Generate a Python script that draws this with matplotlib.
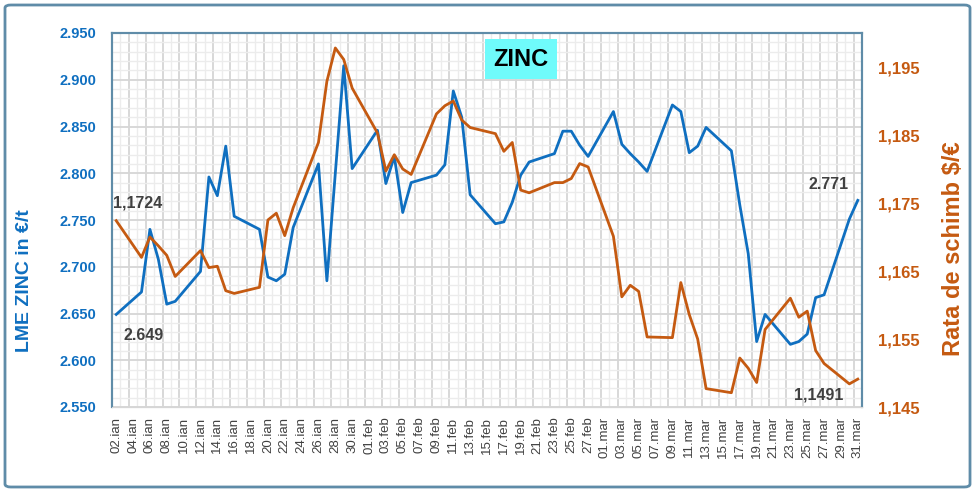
import numpy as np
import pandas as pd
import matplotlib
matplotlib.use('Agg')
import matplotlib.pyplot as plt
from matplotlib.patches import Rectangle, FancyBboxPatch
from matplotlib.ticker import FuncFormatter, MultipleLocator

# zile de la 02.ian (pozitia pe axa)
zile = [0,
        3, 4, 5, 6, 7,
        10, 11, 12, 13, 14,
        17, 18, 19, 20, 21,
        24, 25, 26, 27, 28,
        31, 32, 33, 34, 35,
        38, 39, 40, 41, 42,
        45, 46, 47, 48, 49,
        52, 53, 54, 55, 56,
        59, 60, 61, 62, 63,
        66, 67, 68, 69, 70,
        73, 74, 75, 76, 77,
        80, 81, 82, 83, 84,
        87, 88]

lme_zinc = [2649,
            2673, 2740, 2708, 2660, 2663,
            2695, 2796, 2776, 2829, 2754,
            2740, 2689, 2685, 2692, 2742,
            2810, 2685, 2800, 2915, 2805,
            2846, 2789, 2818, 2758, 2790,
            2798, 2809, 2888, 2860, 2777,
            2746, 2748, 2769, 2798, 2812,
            2821, 2845, 2845, 2830, 2818,
            2866, 2831, 2821, 2812, 2802,
            2873, 2866, 2822, 2829, 2849,
            2824, 2766, 2714, 2620, 2649,
            2617, 2620, 2628, 2667, 2670,
            2751, 2771]

eur_usd = [1.1724,
           1.1670, 1.1700, 1.1687, 1.1673, 1.1642,
           1.1680, 1.1655, 1.1657, 1.1621, 1.1617,
           1.1626, 1.1725, 1.1735, 1.1702, 1.1743,
           1.1839, 1.1929, 1.1978, 1.1961, 1.1919,
           1.1853, 1.1797, 1.1821, 1.1800, 1.1792,
           1.1881, 1.1893, 1.1900, 1.1872, 1.1861,
           1.1852, 1.1826, 1.1839, 1.1769, 1.1765,
           1.1780, 1.1780, 1.1786, 1.1808, 1.1803,
           1.1701, 1.1612, 1.1629, 1.1620, 1.1553,
           1.1552, 1.1633, 1.1586, 1.1550, 1.1477,
           1.1471, 1.1522, 1.1507, 1.1486, 1.1564,
           1.1610, 1.1582, 1.1591, 1.1533, 1.1514,
           1.1484, 1.1491]

luni = {1: 'ian', 2: 'feb', 3: 'mar'}
zi_start = pd.Timestamp('2025-01-02')
zi_final = pd.Timestamp('2025-03-31')

BLUE = '#0f6fc0'
ORANGE = '#c55a11'
FRAME = '#5f8ca8'
TXT = '#404040'

plt.rcParams['font.family'] = ['Liberation Sans', 'DejaVu Sans']

fig = plt.figure(figsize=(9.75, 4.92), dpi=100)
ax = fig.add_axes([112/975, 85/492, 750/975, 374/492])
ax2 = ax.twinx()

n_zile = (zi_final - zi_start).days

# grila
ax.set_xlim(-0.5, n_zile + 0.5)
for k in np.arange(-0.5, n_zile + 0.6, 1.0):
    major = int(round(k + 0.5)) % 2 == 0
    ax.axvline(k, color='#d6d6d6' if major else '#ececec',
               lw=1.3 if major else 1.0, zorder=0)
ax.set_ylim(2550, 2950)
ax.yaxis.set_major_locator(MultipleLocator(50))
ax.yaxis.set_minor_locator(MultipleLocator(10))
ax.grid(axis='y', which='major', color='#d6d6d6', lw=1.3, zorder=0)
ax.grid(axis='y', which='minor', color='#ececec', lw=1.0, zorder=0)
ax.set_axisbelow(True)

ax.plot(zile, lme_zinc, color=BLUE, lw=2.0, zorder=3)
ax2.plot(zile, eur_usd, color=ORANGE, lw=2.0, zorder=3)

ax2.set_ylim(1.145, 1.200)
ax2.set_yticks(np.arange(1.145, 1.196, 0.01))

# etichete axa x
tick_pos = np.arange(0, n_zile + 1, 2)
tick_lbl = []
for d in tick_pos:
    t = zi_start + pd.Timedelta(days=int(d))
    tick_lbl.append('%02d.%s' % (t.day, luni[t.month]))
ax.set_xticks(tick_pos)
ax.set_xticklabels(tick_lbl, rotation=90, fontsize=9.5, color=TXT)

ax.yaxis.set_major_formatter(FuncFormatter(lambda v, p: '{:,.0f}'.format(v).replace(',', '.')))
ax2.yaxis.set_major_formatter(FuncFormatter(lambda v, p: '{:.3f}'.format(v).replace('.', ',')))

ax.tick_params(axis='x', length=0, pad=7)
ax.tick_params(axis='y', which='both', length=0, pad=11.5, labelsize=10.5, labelcolor=BLUE)
for lb in ax.get_yticklabels():
    lb.set_fontweight('bold')
ax2.tick_params(axis='y', length=0, pad=11.5, labelsize=12, labelcolor=ORANGE)
for lb in ax2.get_yticklabels():
    lb.set_fontweight('bold')

for a in (ax, ax2):
    for s in ('left', 'top', 'right'):
        a.spines[s].set_color(FRAME)
        a.spines[s].set_linewidth(1.5)
    a.spines['bottom'].set_color('#d6d6d6')

# titluri axe
fig.text(25/975, 1 - 281/492, 'LME ZINC in €/t', rotation=90, ha='center', va='center',
         fontsize=14, fontweight='bold', color=BLUE)
fig.text(953/975, 1 - 249/492, 'Rata de schimb $/€', rotation=90, ha='center', va='center',
         fontsize=17, fontweight='bold', color=ORANGE)

# caseta ZINC
fig.patches.append(Rectangle((485/975, 1 - 79/492), 72/975, 40/492,
                             transform=fig.transFigure, facecolor='#6ffbfb',
                             edgecolor='none', zorder=5))
fig.text(521/975, 1 - 60/492, 'ZINC', ha='center', va='center', fontsize=17,
         fontweight='bold', color='black', zorder=6)

# valori de inceput / sfarsit
ax2.annotate('{:.4f}'.format(eur_usd[0]).replace('.', ','), (zile[0], eur_usd[0]),
             xytext=(-3, 18), textcoords='offset pixels', ha='left', va='center',
             fontsize=11.5, fontweight='bold', color=TXT)
ax.annotate('{:,.0f}'.format(lme_zinc[0]).replace(',', '.'), (zile[0], lme_zinc[0]),
            xytext=(7, -21), textcoords='offset pixels', ha='left', va='center',
            fontsize=11.5, fontweight='bold', color=TXT)
ax.annotate('{:,.0f}'.format(lme_zinc[-1]).replace(',', '.'), (zile[-1], lme_zinc[-1]),
            xytext=(-9, 16), textcoords='offset pixels', ha='right', va='center',
            fontsize=11.5, fontweight='bold', color=TXT)
ax2.annotate('{:.4f}'.format(eur_usd[-1]).replace('.', ','), (zile[-1], eur_usd[-1]),
             xytext=(-14, -16), textcoords='offset pixels', ha='right', va='center',
             fontsize=11.5, fontweight='bold', color=TXT)

# chenar exterior
fig.patches.append(FancyBboxPatch((5/975, 5/492), 965/975, 482/492,
                                  boxstyle='round,pad=0,rounding_size=0.006',
                                  transform=fig.transFigure, facecolor='none',
                                  edgecolor=FRAME, lw=2))

fig.savefig('out.png', dpi=100)
